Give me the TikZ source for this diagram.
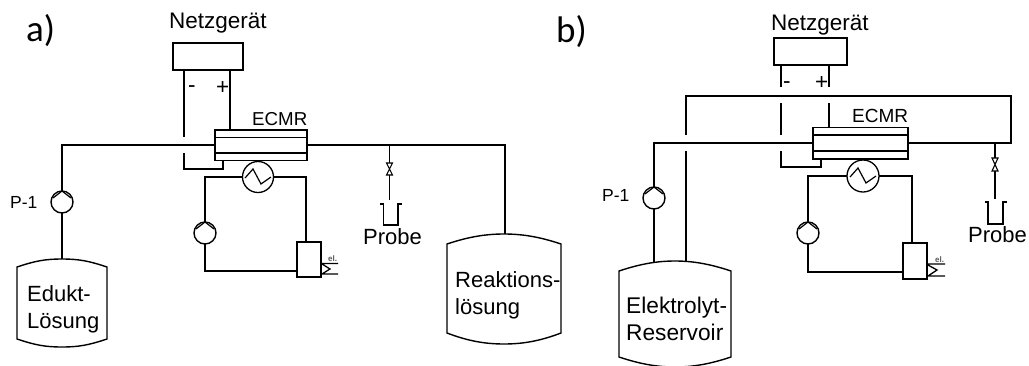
\documentclass[tikz,border=0pt]{standalone}
\usepackage{fontspec}
\setmainfont{Liberation Sans}
\newfontfamily\panelfont{Carlito}
\usetikzlibrary{positioning,calc}
\tikzset{
    line/.style={line width=1.8pt,line join=miter},
    kasten/.style={draw,line width=1.8pt,rectangle,inner sep=0pt,outer sep=0pt,anchor=north west},
    pump/.style={draw,circle,line width=1.4pt,inner sep=0pt,outer sep=0pt,minimum size=22pt,
        path picture={\draw[line width=1.2pt] (path picture bounding box.north) -- ++(-9pt,-7pt)
            (path picture bounding box.north) -- ++(9pt,-7pt);}},
    kuehler/.style={draw,circle,line width=1.3pt,inner sep=0pt,outer sep=0pt,minimum size=31pt},
    label/.style={inner sep=0pt,anchor=base west,font=\fontsize{22.5}{26}\selectfont},
    tanktext/.style={inner sep=0pt,anchor=west,align=left,font=\fontsize{22}{27}\selectfont},
    panel/.style={inner sep=0pt,anchor=base west,font=\panelfont\fontsize{37}{40}\selectfont},
    klein/.style={inner sep=0pt,anchor=base west,font=\fontsize{18.7}{20}\selectfont},
    tiny/.style={inner sep=0pt,anchor=base west,font=\bfseries\fontsize{8}{8}\selectfont,text=black!65},
    tankline/.style={line width=1.4pt},
}
\begin{document}
\begin{tikzpicture}[x=1pt,y=-1pt]
    \useasboundingbox (0,0) rectangle (1029,365);

    % a)
    \node[panel] (a) at (26,41) {a)};
    \node[label] (neta) at (169,28) {Netzgerät};
    \node[kasten,minimum width=70pt,minimum height=27pt] (psa) at (173,43) {};
    \node[kasten,minimum width=92pt,minimum height=30.5pt] (ecmra) at (215,130) {};
    \node[klein] (ecmrla) at (252,125) {ECMR};
    \draw[line] (215,137.5) -- (307,137.5) (215,153) -- (307,153);
    \node[label] (minusa) at (188,92) {-};
    \node[label] (plusa) at (216,94) {+};
    \coordinate (m1a) at (184,70);
    \coordinate (m2a) at (184,137);
    \coordinate (m3a) at (184,153);
    \draw[line] (m1a) -- (m2a);
    \draw[line] (m3a) |- (223,169) -- (223,160.5);
    \draw[line] (230,70) -- (230,130);

    \node[pump] (p1a) at (62,202) {};
    \node[label,font=\fontsize{17.5}{20}\selectfont] (p1la) at (10,208) {P-1};
    \coordinate (ta) at (62,259);
    \draw[line] (ecmra.west |- 0,145) -| (p1a);
    \draw[tankline] (p1a) -- (ta);
    \draw[tankline] (17,267) .. controls (35,261) and (45,259) .. (62,259) .. controls (79,259) and (89,261) .. (107,267) -- (107,339) .. controls (89,345) and (79,347) .. (62,347) .. controls (45,347) and (35,345) .. (17,339) -- cycle;
    \node[tanktext] (edukt) at (27,309) {Edukt-\\Lösung};

    \coordinate (ra) at (505,234);
    \draw[line] (ecmra.east |- 0,145) -| (ra);
    \node[kuehler] (hxa) at (258,177) {};
    \draw[line width=1.2pt] (245,178) -- (253,169) -- (261,184) -- (271,177);
    \node[pump] (p2a) at (205,233) {};
    \node[kasten,minimum width=24pt,minimum height=35pt] (ela) at (297,242) {};
    \draw[line] (hxa) -- (205,177) -- (p2a);
    \draw[line] (hxa) -- (306,177) -- (306,242);
    \draw[line] (p2a) |- (297,271);
    \draw[line width=1.3pt] (321,263.5) -- (338,263.5) (321,274) -- (338,274) (322,264) -- (330,269) -- (322,274);
    \node[tiny] (elta) at (328,261) {el.};

    \coordinate (va) at (389.5,145);
    \draw[tankline] (va) -- (389.5,163) (389.5,175) -- (389.5,200);
    \draw[line width=1.1pt] (386.5,163) -- (392.5,163) -- (386.5,175) -- (392.5,175) -- cycle;
    \draw[line] (380,204) -- (383.5,204) -- (383.5,225) -- (398,225) -- (398,204) -- (402,204);
    \node[label,font=\fontsize{22}{26}\selectfont] (pra) at (363,244) {Probe};
    \draw[tankline] (447,244) .. controls (468,237) and (485,234) .. (504,234) .. controls (523,234) and (540,237) .. (561,244) -- (561,333) .. controls (540,341) and (523,344) .. (504,344) .. controls (485,344) and (468,341) .. (447,333) -- cycle;
    \node[tanktext] (reakt) at (455,295) {Reaktions-\\lösung};

    % b)
    \node[panel] (b) at (556,42) {b)};
    \node[label] (netb) at (771,30) {Netzgerät};
    \node[kasten,minimum width=73pt,minimum height=27pt] (psb) at (774,38) {};
    \node[kasten,minimum width=95pt,minimum height=31.5pt] (ecmrb) at (813,127.5) {};
    \node[klein,font=\fontsize{19}{20}\selectfont] (ecmrlb) at (852,122) {ECMR};
    \draw[line] (813,135) -- (908,135) (813,151) -- (908,151);
    \node[label] (minusb) at (783,88) {-};
    \node[label] (plusb) at (815,89) {+};
    \draw[line] (781,65) -- (781,87);
    \draw[line] (781,103) -- (781,135);
    \draw[line] (781,151) |- (821,167) -- (821,159);
    \draw[line] (829,65) -- (829,87);
    \draw[line] (829,103) -- (829,127.5);
    \coordinate (tr) at (1011,96);
    \coordinate (tl) at (686,96);
    \draw[line] (ecmrb.east |- 0,143) -| (tr) -- (tl) -- (686,135);
    \coordinate (te) at (686,262);
    \draw[line] (686,151) -- (te);

    \node[pump] (p1b) at (654,198) {};
    \node[label,font=\fontsize{17.5}{20}\selectfont] (p1lb) at (602,201) {P-1};
    \coordinate (tb) at (654,262);
    \draw[line] (ecmrb.west |- 0,143) -| (p1b);
    \draw[tankline] (p1b) -- (tb);
    \draw[tankline] (619,271) .. controls (640,264) and (657,261) .. (675,261) .. controls (693,261) and (710,264) .. (731,271) -- (731,357) .. controls (710,364) and (693,367) .. (675,367) .. controls (657,367) and (640,364) .. (619,357) -- cycle;
    \node[tanktext,font=\fontsize{22.7}{27}\selectfont] (elektro) at (626,319) {Elektrolyt-\\Reservoir};

    \node[kuehler,minimum size=32pt] (hxb) at (863,176) {};
    \draw[line width=1.2pt] (850,177) -- (858,168) -- (866,183) -- (876,176);
    \node[pump] (p2b) at (808,233) {};
    \node[kasten,minimum width=24pt,minimum height=36pt] (elb) at (903,243) {};
    \draw[line] (hxb) -- (808,176) -- (p2b);
    \draw[line] (hxb) -- (912,176) -- (912,243);
    \draw[line] (p2b) |- (903,272);
    \draw[line width=1.3pt] (927,264) -- (945,264) (927,276) -- (945,276) (928,265) -- (937,270) -- (928,276);
    \node[tiny] (eltb) at (935,262) {el.};

    \coordinate (vb) at (995,143);
    \draw[tankline] (vb) -- (995,158) (995,171) -- (995,199);
    \draw[line width=1.1pt] (992,158) -- (998,158) -- (992,171) -- (998,171) -- cycle;
    \draw[line] (985,202) -- (988,202) -- (988,224) -- (1003,224) -- (1003,202) -- (1007,202);
    \node[label,font=\fontsize{22}{26}\selectfont] (prb) at (968,242) {Probe};
\end{tikzpicture}
\end{document}
